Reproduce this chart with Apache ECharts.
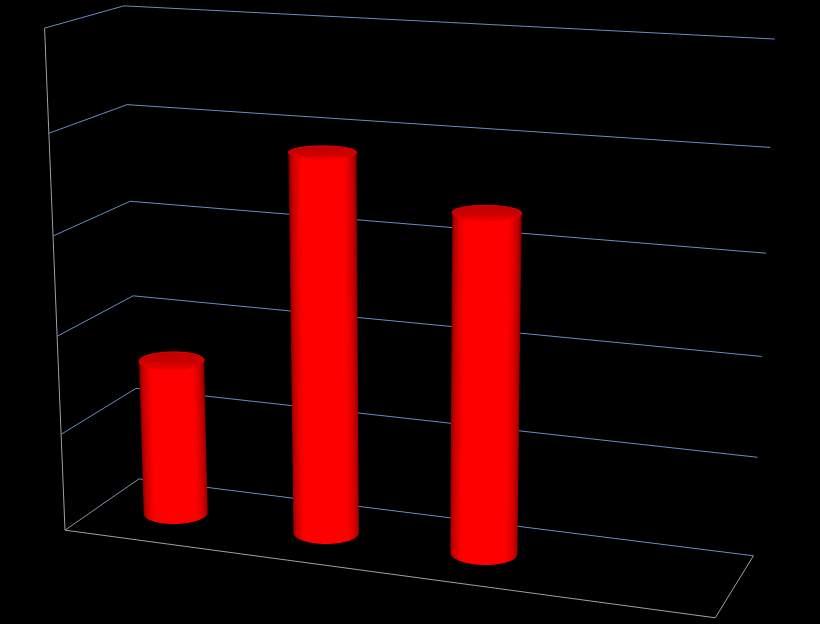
<!DOCTYPE html>
<html><head><meta charset="utf-8">
<style>html,body{margin:0;padding:0;background:#000}#c{width:820px;height:624px}</style>
<script src="https://cdn.jsdelivr.net/npm/echarts@6/dist/echarts.min.js"></script>
</head><body><div id="c"></div>
<script>
// ---- data ----
const categories = ['1', '2', '3', '4'];
const values = [1.61, 3.83, 3.37, null];
const yTicks = [0, 1, 2, 3, 4, 5];
const yMax = 5;

// ---- 3D view: box corners in picture, u across, t up (share of axis), w depth (0 back, 1 front) ----
const viewAnchors = [
  [0,0,1,65,530],[0,.2,1,61,435],[0,.4,1,57,336],[0,.6,1,53,236],[0,.8,1,49,133],[0,1,1,45,28],
  [0,0,0,139,479],[0,.2,0,137,388],[0,.4,0,133,296],[0,.6,0,129,201],[0,.8,0,127,105],[0,1,0,124,6],
  [1,0,0,753,556],[1,.2,0,758,457],[1,.4,0,762,356],[1,.6,0,766,253],[1,.8,0,770,148],[1,1,0,775,39],
  [1,0,1,715,618]
];
const radiusU = 0.0495, radiusW = 0.19, depthW = 0.5, facets = 96;

function solveCamera(pts) {
  const n = 11, A = Array.from({length:n}, () => new Array(n + 1).fill(0));
  const add = (r, b) => { for (let i=0;i<n;i++){ for (let j=0;j<n;j++) A[i][j]+=r[i]*r[j]; A[i][n]+=r[i]*b; } };
  pts.forEach(([X,Y,Z,px,py]) => {
    const x=px/1000, y=py/1000;
    add([X,Y,Z,1,0,0,0,0,-x*X,-x*Y,-x*Z], x);
    add([0,0,0,0,X,Y,Z,1,-y*X,-y*Y,-y*Z], y);
  });
  for (let i=0;i<n;i++){
    let m=i; for (let k=i+1;k<n;k++) if (Math.abs(A[k][i])>Math.abs(A[m][i])) m=k;
    [A[i],A[m]]=[A[m],A[i]];
    for (let k=0;k<n;k++) if (k!==i){ const f=A[k][i]/A[i][i]; for (let j=i;j<=n;j++) A[k][j]-=f*A[i][j]; }
  }
  return A.map((r,i)=>r[n]/r[i]);
}
const cam = solveCamera(viewAnchors);
function project(u,t,w){
  const d = cam[8]*u+cam[9]*t+cam[10]*w+1;
  return [1000*(cam[0]*u+cam[1]*t+cam[2]*w+cam[3])/d, 1000*(cam[4]*u+cam[5]*t+cam[6]*w+cam[7])/d];
}
function hull(points){
  const p = points.slice().sort((a,b)=>a[0]-b[0]||a[1]-b[1]);
  const cross=(o,a,b)=>(a[0]-o[0])*(b[1]-o[1])-(a[1]-o[1])*(b[0]-o[0]);
  const chain=list=>{const h=[];list.forEach(q=>{while(h.length>1&&cross(h[h.length-2],h[h.length-1],q)<=0)h.pop();h.push(q);});h.pop();return h;};
  return chain(p).concat(chain(p.slice().reverse()));
}

const gridColor = '#6a8cc4', axisColor = '#a0a0a0';
function seg(a,b,color){
  return {type:'line',shape:{x1:a[0],y1:a[1],x2:b[0],y2:b[1]},style:{stroke:color,lineWidth:1}};
}
function shade(t){
  const b = Math.min(1, 0.45 + 0.7*Math.sqrt(Math.max(0,1-t*t)));
  return 'rgb('+Math.round(255*b)+',0,0)';
}
const bodyStops = Array.from({length:61},(_,i)=>({offset:i/60,color:shade(i/30-1)}));

function renderWall(params, api){
  const cs = params.coordSys;
  const t = 1 - (api.coord([0, api.value(0)])[1] - cs.y) / cs.height;
  const A = project(0,t,1), B = project(0,t,0), C = project(1,t,0);
  const children = [seg(A,B,t===0?'#8494ad':gridColor), seg(B,C,gridColor)];
  if (t === 0) {
    children.push(seg(project(1,0,0),project(1,0,1),axisColor));
    children.push(seg(project(1,0,1),project(0,0,1),axisColor));
    children.push(seg(project(0,0,1),project(0,1,1),axisColor));
  }
  return {type:'group',children};
}

function renderBar(params, api){
  const cs = params.coordSys;
  const v = api.value(1);
  if (v == null || isNaN(v)) return null;
  const c = api.coord([api.value(0), v]);
  const u = (c[0]-cs.x)/cs.width, t = 1-(c[1]-cs.y)/cs.height;
  const ring = h => { const out=[]; for(let i=0;i<facets;i++){ const a=i/facets*2*Math.PI;
    out.push(project(u+radiusU*Math.cos(a),h,depthW+radiusW*Math.sin(a))); } return out; };
  const bot = ring(0), top = ring(t);
  const span = r => { const xs=r.map(p=>p[0]); return Math.max(...xs)-Math.min(...xs); };
  const cB = project(u,0,depthW), cT = project(u,t,depthW);
  const len = Math.hypot(cT[0]-cB[0],cT[1]-cB[1]);
  const nx = (cB[1]-cT[1])/len, ny = (cT[0]-cB[0])/len;
  const half = (span(bot)+span(top))/4;
  const mx=(cB[0]+cT[0])/2, my=(cB[1]+cT[1])/2;
  const children=[{type:'polygon',shape:{points:hull(bot.concat(top))},style:{
    fill:new echarts.graphic.LinearGradient(mx-nx*half,my-ny*half,mx+nx*half,my+ny*half,bodyStops,true)}}];
  children.push({type:'polygon',shape:{points:top},style:{
    fill:new echarts.graphic.LinearGradient(0,0,0,1,[
      {offset:0,color:'#bd0000'},{offset:0.6,color:'#cc0000'},{offset:1,color:'#f00000'}]),
    stroke:'#e40000',lineWidth:1}});
  return {type:'group',children};
}

const chart = echarts.init(document.getElementById('c'), null, {width:820,height:624});
chart.setOption({
  animation:false,
  backgroundColor:'#000',
  grid:{left:0,right:0,top:0,bottom:0},
  xAxis:{type:'category',data:categories,show:false},
  yAxis:{type:'value',min:0,max:yMax,interval:1,show:false},
  series:[
    {type:'custom',coordinateSystem:'cartesian2d',silent:true,clip:false,
     encode:{y:0},data:yTicks.map(v=>[v]),renderItem:renderWall,z:1},
    {type:'custom',coordinateSystem:'cartesian2d',silent:true,clip:false,
     encode:{x:0,y:1},data:values.map((v,i)=>[i,v]),renderItem:renderBar,z:2}
  ]
});
</script></body></html>
